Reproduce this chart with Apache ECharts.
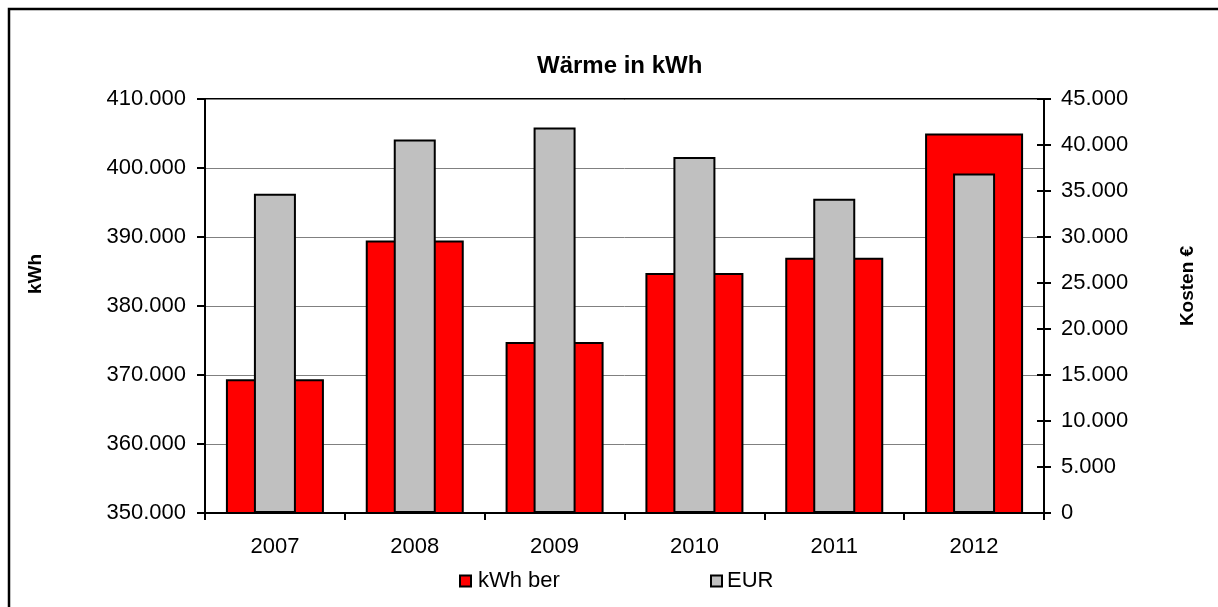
<!DOCTYPE html>
<html>
<head>
<meta charset="utf-8">
<script src="https://cdn.jsdelivr.net/npm/echarts@6/dist/echarts.min.js"></script>
<style>
html,body{margin:0;padding:0;background:#fff;}
#chart{width:1218px;height:607px;}
</style>
</head>
<body>
<div id="chart"></div>
<script>
const categories = ['2007', '2008', '2009', '2010', '2011', '2012'];
const kwhBer = [369400, 389500, 374800, 384800, 387000, 405000];
const eur = [34700, 40600, 41900, 38700, 34150, 36900];
const seriesNames = ['kWh ber', 'EUR'];
const titleText = 'Wärme in kWh';
const leftAxisName = 'kWh';
const rightAxisName = 'Kosten €';

const FONT = '"Liberation Sans", Arial, sans-serif';
function fmt(v) {
  return String(v).replace(/\B(?=(\d{3})+(?!\d))/g, '.');
}

const chart = echarts.init(document.getElementById('chart'), null, {renderer: 'canvas'});
const option = {
  animation: false,
  backgroundColor: '#fff',
  textStyle: {fontFamily: FONT, color: '#000'},
  title: {
    text: titleText,
    left: 532,
    top: 49,
    textStyle: {fontFamily: FONT, fontSize: 24, fontWeight: 'bold', color: '#000'}
  },
  graphic: [{
    type: 'rect',
    shape: {x: 9, y: 9, width: 1240, height: 640},
    style: {fill: null, stroke: '#000', lineWidth: 2.5},
    silent: true,
    z: 100
  }, {
    type: 'text',
    x: 36, y: 274,
    rotation: Math.PI / 2,
    silent: true,
    style: {text: leftAxisName, font: 'bold 19px ' + FONT, fill: '#000', align: 'center', verticalAlign: 'middle'}
  }, {
    type: 'text',
    x: 1188, y: 286,
    rotation: Math.PI / 2,
    silent: true,
    style: {text: rightAxisName, font: 'bold 19px ' + FONT, fill: '#000', align: 'center', verticalAlign: 'middle'}
  }],
  legend: [{
    data: [seriesNames[0]],
    left: 454, top: 565,
    icon: 'rect', itemWidth: 11, itemHeight: 11, itemGap: 0,
    textStyle: {fontFamily: FONT, fontSize: 22, color: '#000', padding: [0, 0, 0, 2]}
  }, {
    data: [seriesNames[1]],
    left: 705, top: 565,
    icon: 'rect', itemWidth: 11, itemHeight: 11, itemGap: 0,
    textStyle: {fontFamily: FONT, fontSize: 22, color: '#000', padding: [0, 0, 0, 0]}
  }],
  grid: {
    left: 205, right: 174, top: 99, bottom: 94,
    show: true, borderColor: '#000', borderWidth: 2, backgroundColor: '#fff'
  },
  xAxis: [{
    type: 'category',
    data: categories,
    axisLine: {lineStyle: {color: '#000', width: 2}},
    axisTick: {show: true, length: 7, lineStyle: {color: '#000', width: 2}},
    axisLabel: {fontFamily: FONT, fontSize: 22, color: '#000', margin: 23}
  }, {
    type: 'category',
    data: categories,
    show: false
  }],
  yAxis: [{
    type: 'value',
    position: 'left',
    min: 350000, max: 410000, interval: 10000,
    axisLine: {show: true, lineStyle: {color: '#000', width: 2}},
    axisTick: {show: true, length: 8, lineStyle: {color: '#000', width: 2}},
    axisLabel: {fontFamily: FONT, fontSize: 22, color: '#000', margin: 19, formatter: fmt},
    splitLine: {show: true, lineStyle: {color: '#808080', width: 1}}
  }, {
    type: 'value',
    position: 'right',
    min: 0, max: 45000, interval: 5000,
    axisLine: {show: true, lineStyle: {color: '#000', width: 2}},
    axisTick: {show: true, length: 7, lineStyle: {color: '#000', width: 2}},
    axisLabel: {fontFamily: FONT, fontSize: 22, color: '#000', margin: 17, formatter: fmt},
    splitLine: {show: false}
  }, {
    type: 'value',
    position: 'right',
    min: 0, max: 45000, interval: 5000,
    axisLine: {show: false},
    axisTick: {show: true, inside: true, length: 7, lineStyle: {color: '#000', width: 2}},
    axisLabel: {show: false},
    splitLine: {show: false}
  }],
  series: [{
    name: seriesNames[0],
    type: 'bar',
    xAxisIndex: 0,
    yAxisIndex: 0,
    data: kwhBer,
    barWidth: 98,
    itemStyle: {color: '#ff0000', borderColor: '#000', borderWidth: 2}
  }, {
    name: seriesNames[1],
    type: 'bar',
    xAxisIndex: 1,
    yAxisIndex: 1,
    data: eur,
    barWidth: 42,
    itemStyle: {color: '#c0c0c0', borderColor: '#000', borderWidth: 2}
  }]
};
chart.setOption(option);
</script>
</body>
</html>
